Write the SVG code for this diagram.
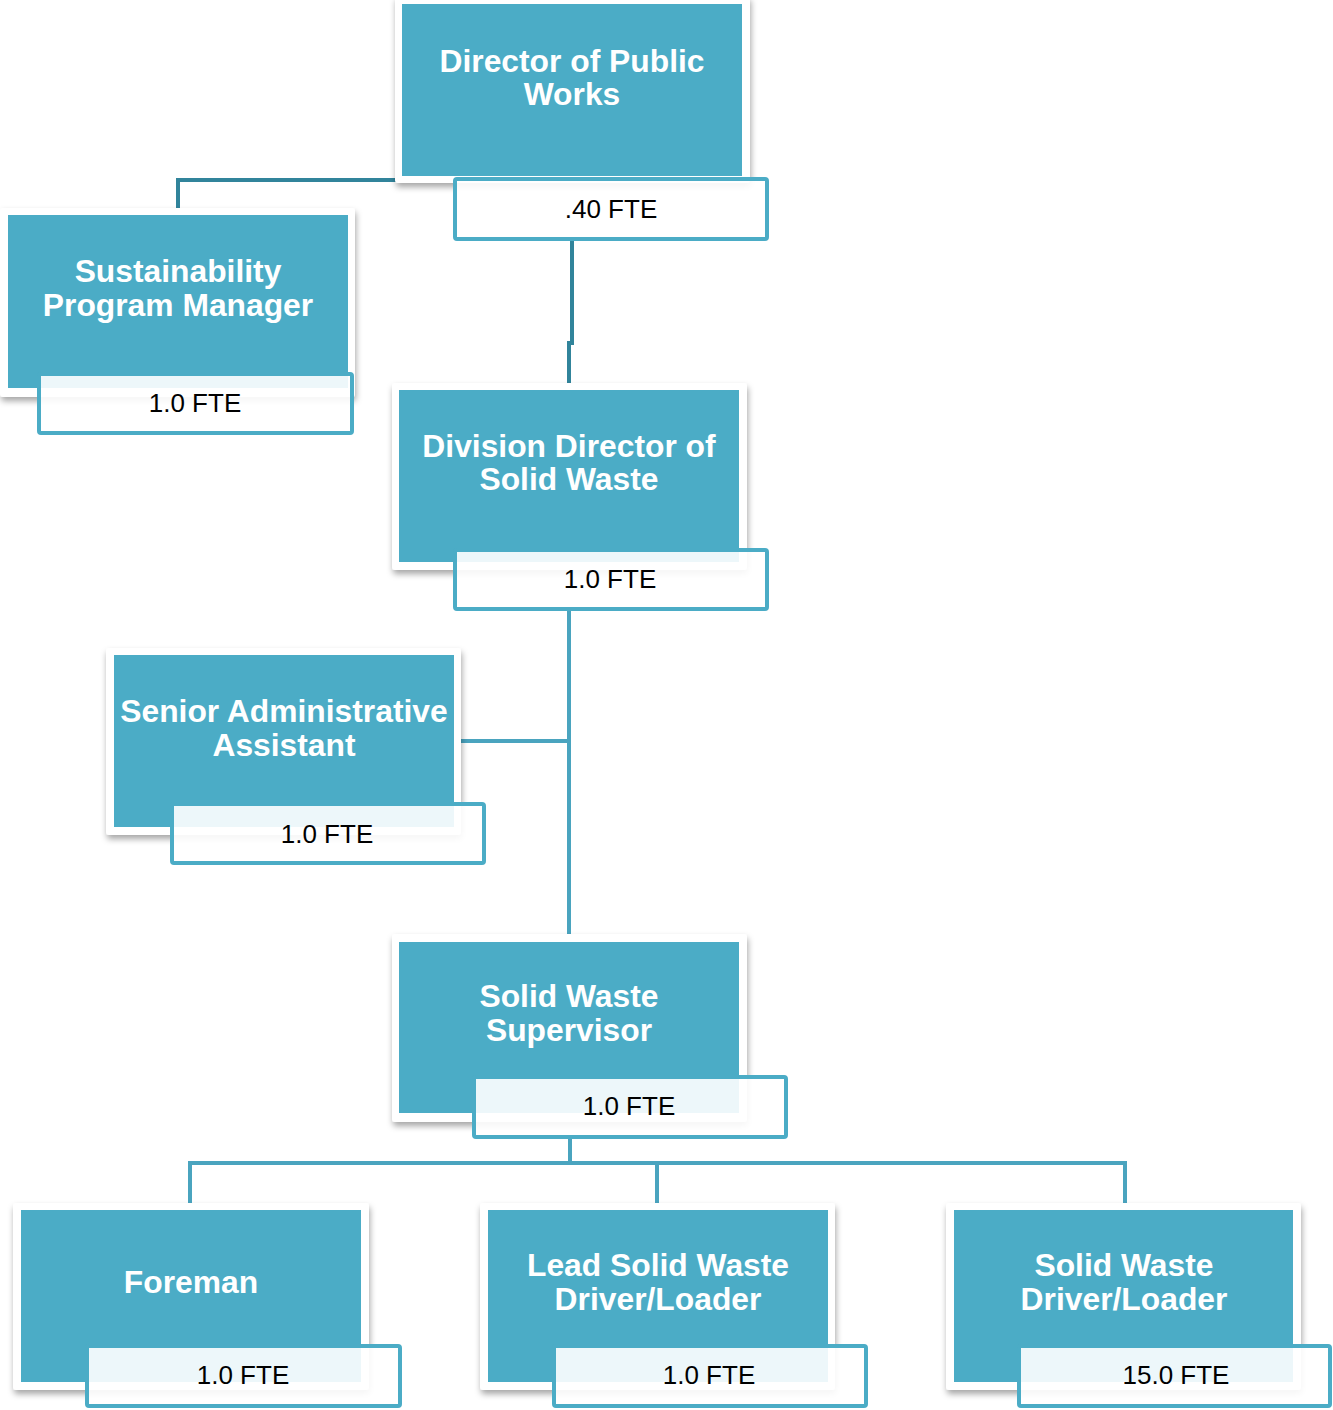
<svg xmlns="http://www.w3.org/2000/svg" width="1333" height="1410" viewBox="0 0 1333 1410">
<defs>
<filter id="sh" x="-10%" y="-10%" width="125%" height="130%">
<feDropShadow dx="1" dy="4" stdDeviation="3" flood-color="#000" flood-opacity="0.35"/>
</filter>
</defs>
<style>
.frame{fill:#fff;filter:url(#sh)}
.box{fill:#4BACC6}
.fte{fill:#fff;fill-opacity:0.9;stroke:#4BACC6;stroke-width:4}
.t{font-family:"Liberation Sans",Arial,sans-serif;font-weight:bold;font-size:31.8px;fill:#fff;text-anchor:middle}
.f{font-family:"Liberation Sans",Arial,sans-serif;font-size:26px;fill:#000;text-anchor:middle}
.c1{fill:none;stroke:#31849B;stroke-width:4}
.c2{fill:none;stroke:#4AA4BF;stroke-width:4}
</style>
<g id="connectors">
<path class="c1" d="M400 180 H178 V210"/>
<path class="c1" d="M572 240 V343 H569 V386"/>
<path class="c2" d="M569 611 V936"/>
<path class="c2" d="M459 741 H569"/>
<path class="c2" d="M570 1139 V1163"/>
<path class="c2" d="M190 1206 V1163 H1125 V1206"/>
<path class="c2" d="M657 1163 V1206"/>
</g>
<g id="director">
<rect class="frame" x="395" y="-4" width="355" height="187" rx="3"/>
<rect class="box" x="402" y="4" width="340" height="172"/>
<text class="t" x="572" y="72">Director of Public</text>
<text class="t" x="572" y="105">Works</text>
<rect class="fte" x="455" y="179" width="312" height="60" rx="2"/>
<text class="f" x="611" y="218">.40 FTE</text>
</g>
<g id="sustainability">
<rect class="frame" x="0" y="208" width="355" height="189" rx="3"/>
<rect class="box" x="8" y="215" width="340" height="173"/>
<text class="t" x="178" y="282">Sustainability</text>
<text class="t" x="178" y="316">Program Manager</text>
<rect class="fte" x="39" y="374" width="313" height="59" rx="2"/>
<text class="f" x="195" y="412">1.0 FTE</text>
</g>
<g id="division">
<rect class="frame" x="392" y="383" width="355" height="187" rx="3"/>
<rect class="box" x="399" y="390" width="340" height="172"/>
<text class="t" x="569" y="457">Division Director of</text>
<text class="t" x="569" y="490">Solid Waste</text>
<rect class="fte" x="455" y="550" width="312" height="59" rx="2"/>
<text class="f" x="610" y="588">1.0 FTE</text>
</g>
<g id="senior-admin">
<rect class="frame" x="106" y="648" width="355" height="187" rx="3"/>
<rect class="box" x="114" y="655" width="340" height="172"/>
<text class="t" x="284" y="722">Senior Administrative</text>
<text class="t" x="284" y="756">Assistant</text>
<rect class="fte" x="172" y="804" width="312" height="59" rx="2"/>
<text class="f" x="327" y="843">1.0 FTE</text>
</g>
<g id="supervisor">
<rect class="frame" x="392" y="934" width="355" height="188" rx="3"/>
<rect class="box" x="399" y="942" width="340" height="171"/>
<text class="t" x="569" y="1007">Solid Waste</text>
<text class="t" x="569" y="1041">Supervisor</text>
<rect class="fte" x="474" y="1077" width="312" height="60" rx="2"/>
<text class="f" x="629" y="1115">1.0 FTE</text>
</g>
<g id="foreman">
<rect class="frame" x="13" y="1203" width="356" height="187" rx="3"/>
<rect class="box" x="21" y="1210" width="340" height="172"/>
<text class="t" x="191" y="1293">Foreman</text>
<rect class="fte" x="87" y="1346" width="313" height="60" rx="2"/>
<text class="f" x="243" y="1384">1.0 FTE</text>
</g>
<g id="lead-driver">
<rect class="frame" x="480" y="1203" width="355" height="187" rx="3"/>
<rect class="box" x="488" y="1210" width="340" height="172"/>
<text class="t" x="658" y="1276">Lead Solid Waste</text>
<text class="t" x="658" y="1310">Driver/Loader</text>
<rect class="fte" x="554" y="1346" width="312" height="60" rx="2"/>
<text class="f" x="709" y="1384">1.0 FTE</text>
</g>
<g id="driver">
<rect class="frame" x="946" y="1203" width="355" height="187" rx="3"/>
<rect class="box" x="954" y="1210" width="339" height="172"/>
<text class="t" x="1124" y="1276">Solid Waste</text>
<text class="t" x="1124" y="1310">Driver/Loader</text>
<rect class="fte" x="1019" y="1346" width="311" height="60" rx="2"/>
<text class="f" x="1176" y="1384">15.0 FTE</text>
</g>
</svg>
